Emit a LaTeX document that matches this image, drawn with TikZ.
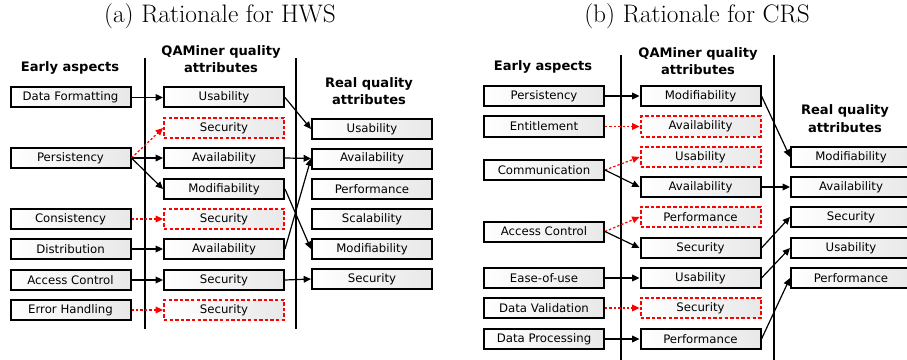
\documentclass[tikz,border=0pt]{standalone}
\usepackage{fontspec}
\setsansfont{DejaVu Sans}
\usetikzlibrary{arrows.meta}
\tikzset{
  qbox/.style={draw, line width=1.5pt, minimum width=90pt, minimum height=15pt, inner sep=0pt,
    left color=white, right color=black!9, font=\sffamily\fontsize{8.8}{10}\selectfont},
  qred/.style={qbox, draw=red, dash pattern=on 2.6pt off 1.6pt},
  hdr/.style={font=\sffamily\bfseries\fontsize{9.8}{13.2}\selectfont, align=center, inner sep=0pt},
  ttl/.style={font=\fontsize{19}{22}\selectfont, inner sep=0pt},
  arr/.style={line width=0.9pt, -{Triangle[length=5.5pt,width=5pt]}},
  rarr/.style={line width=0.9pt, red, dash pattern=on 1.8pt off 1.5pt, -{Triangle[length=5.5pt,width=5pt]}},
  sep/.style={line width=1.3pt}
}
\begin{document}
\begin{tikzpicture}[x=0.75pt,y=-0.75pt]
\clip (0,0) rectangle (907,360);
% titles
\node[ttl] (ta) at (220,16) {(a) Rationale for HWS};
\node[ttl] (tb) at (697,16) {(b) Rationale for CRS};
% ---------- panel (a) ----------
\draw[sep] (145,58) -- (145,329);
\draw[sep] (296,58) -- (296,329);
\node[hdr] (ha1) at (70,68) {Early aspects};
\node[hdr] (ha2) at (221,59) {QAMiner quality\\attributes};
\node[hdr] (ha3) at (369,91) {Real quality\\attributes};

\node[qbox] (a1) at (70.5,97.5) {Data Formatting};
\node[qbox] (a2) at (70.5,158) {Persistency};
\node[qbox] (a3) at (70.5,219) {Consistency};
\node[qbox] (a4) at (70.5,249) {Distribution};
\node[qbox] (a5) at (70.5,280) {Access Control};
\node[qbox] (a6) at (70.5,310) {Error Handling};

\node[qbox] (b1) at (224,97.5) {Usability};
\node[qred] (b2) at (224,128) {Security};
\node[qbox] (b3) at (224,158) {Availability};
\node[qbox] (b4) at (224,189) {Modifiability};
\node[qred] (b5) at (224,219) {Security};
\node[qbox] (b6) at (224,249) {Availability};
\node[qbox] (b7) at (224,280) {Security};
\node[qred] (b8) at (224,310) {Security};

\node[qbox] (c1) at (372,129) {Usability};
\node[qbox] (c2) at (372,158.5) {Availability};
\node[qbox] (c3) at (372,189) {Performance};
\node[qbox] (c4) at (372,219) {Scalability};
\node[qbox] (c5) at (372,249) {Modifiability};
\node[qbox] (c6) at (372,279) {Security};

\draw[arr] (a1.east) -- (b1.west);
\draw[rarr] (a2.east) -- (b2.west);
\draw[arr] (a2.east) -- (b3.west);
\draw[arr] (a2.east) -- (b4.west);
\draw[rarr] (a3.east) -- (b5.west);
\draw[arr] (a4.east) -- (b6.west);
\draw[arr] (a5.east) -- (b7.west);
\draw[rarr] (a6.east) -- (b8.west);

\draw[arr] (b1.east) -- (c1.west);
\draw[arr] (b3.east) -- (c2.west);
\draw[arr] (b4.east) -- (c5.west);
\draw[arr] (b6.east) -- (c2.west);
\draw[arr] (b7.east) -- (c6.west);

% ---------- panel (b) ----------
\draw[sep] (621,55) -- (621,360);
\draw[sep] (774,55) -- (774,360);
\node[hdr] (hb1) at (543,67) {Early aspects};
\node[hdr] (hb2) at (698,61) {QAMiner quality\\attributes};
\node[hdr] (hb3) at (845,118.5) {Real quality\\attributes};

\node[qbox] (d1) at (544,96) {Persistency};
\node[qbox] (d2) at (544,126.5) {Entitlement};
\node[qbox] (d3) at (544,170) {Communication};
\node[qbox] (d4) at (544,231.5) {Access Control};
\node[qbox] (d5) at (544,278) {Ease-of-use};
\node[qbox] (d6) at (544,308) {Data Validation};
\node[qbox] (d7) at (544,339) {Data Processing};

\node[qbox] (e1) at (700.5,96) {Modifiability};
\node[qred] (e2) at (700.5,126.5) {Availability};
\node[qred] (e3) at (700.5,157) {Usability};
\node[qbox] (e4) at (700.5,187) {Availability};
\node[qred] (e5) at (700.5,217) {Performance};
\node[qbox] (e6) at (700.5,248) {Security};
\node[qbox] (e7) at (700.5,278) {Usability};
\node[qred] (e8) at (700.5,308) {Security};
\node[qbox] (e9) at (700.5,339) {Performance};

\node[qbox] (f1) at (851,157) {Modifiability};
\node[qbox] (f2) at (851,187) {Availability};
\node[qbox] (f3) at (851,217) {Security};
\node[qbox] (f4) at (851,248) {Usability};
\node[qbox] (f5) at (851,278) {Performance};

\draw[arr] (d1.east) -- (e1.west);
\draw[rarr] (d2.east) -- (e2.west);
\draw[rarr] (d3.east) -- (e3.west);
\draw[arr] (d3.east) -- (e4.west);
\draw[rarr] (d4.east) -- (e5.west);
\draw[arr] (d4.east) -- (e6.west);
\draw[arr] (d5.east) -- (e7.west);
\draw[rarr] (d6.east) -- (e8.west);
\draw[arr] (d7.east) -- (e9.west);

\draw[arr] (e1.east) -- (f1.west);
\draw[arr] (e4.east) -- (f2.west);
\draw[arr] (e6.east) -- (f3.west);
\draw[arr] (e7.east) -- (f4.west);
\draw[arr] (e9.east) -- (f5.west);
\end{tikzpicture}
\end{document}
